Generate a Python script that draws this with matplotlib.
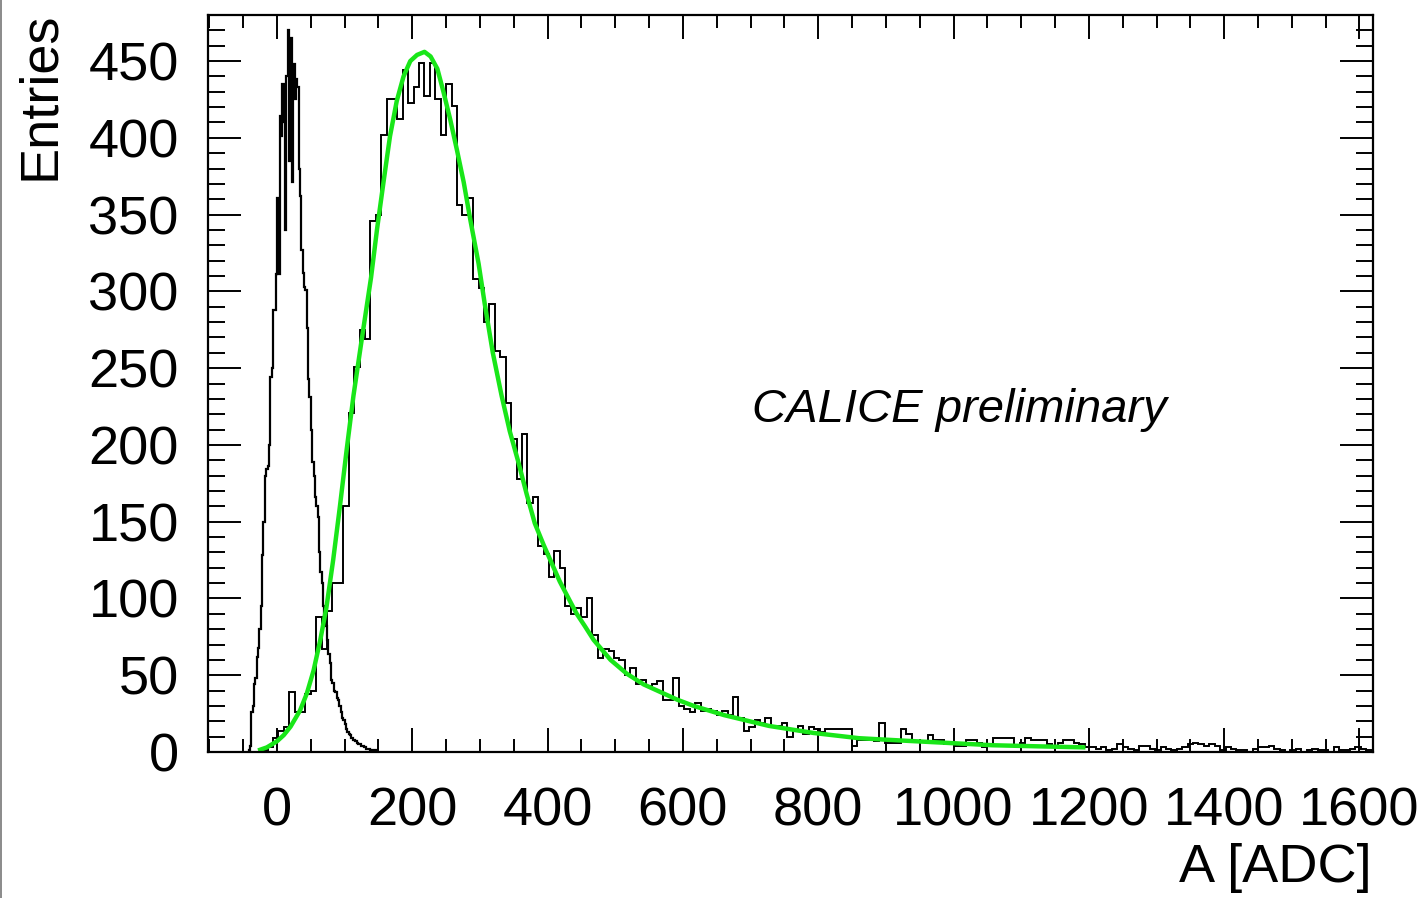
import numpy as np
import matplotlib
matplotlib.use("Agg")
import matplotlib.pyplot as plt
from matplotlib.ticker import MultipleLocator
from matplotlib.lines import Line2D

plt.rcParams["font.family"] = ["Liberation Sans", "DejaVu Sans"]

# pedestal histogram (bin width 2, first bin centre -41)
ped_start, ped_width = -42, 2
ped_counts = [
    1, 4, 26, 30, 44, 48, 62, 68, 80, 95, 128, 150, 180, 184, 186, 200,
    244, 250, 288, 288, 311,
    361, 311, 414, 401, 435, 410, 340, 440, 470, 385, 465, 371, 448, 425,
    438, 433, 380, 362, 327, 312, 303, 301, 276, 243, 231, 210, 189, 180,
    166, 160, 153, 130, 117, 110, 95, 85, 82, 73, 64, 58, 47, 45, 40, 39,
    35, 34, 30, 26, 22, 21, 18, 15, 13, 12, 11, 9, 8, 8, 7, 6, 5, 5, 4, 4,
    3, 3, 2, 2, 2, 1, 1, 1, 1, 0, 0,
]

# signal histogram (bin width 8, first bin centre -98)
sig_start, sig_width = -102, 8
sig_counts = [
    0, 0, 0, 0, 0, 0, 0, 0, 0, 0,
    1, 3, 9, 14, 16, 39, 26, 26, 38, 40, 88, 67, 92, 110, 110, 160,
    221, 251, 275, 269, 346, 350, 402, 425, 425, 412, 444, 423, 433, 449,
    427, 449, 425, 402, 435, 421, 356, 350, 361, 308, 302, 280, 292, 261,
    257, 227, 204, 178, 207, 162, 166, 134, 129, 114, 131, 120, 95, 90,
    94, 88, 100, 76, 61, 67, 66, 61, 60, 50, 55, 44, 47, 43, 44, 46, 34,
    34, 48, 30, 28, 26, 32, 27, 28, 27, 24, 27, 24, 36, 22, 14, 16, 21,
    19, 22, 16, 17, 19, 10, 14, 17, 12, 16, 15, 13, 15, 15, 15, 15, 15,
    4, 8, 8, 8, 7, 19, 6, 6, 6, 15, 12, 7, 7, 7, 11, 8, 8, 5, 5, 4, 4, 8,
    8, 6, 3, 5, 9, 9, 9, 9, 4, 6, 9, 8, 8, 8, 5, 4, 6, 8, 8, 6, 5, 3, 3,
    2, 3, 1, 2, 5, 3, 2, 1, 4, 4, 2, 1, 3, 2, 1, 2, 3, 5, 6, 5, 4, 5, 4,
    1, 3, 2, 1, 1, 0, 2, 3, 3, 4, 2, 1, 0, 1, 2, 0, 1, 2, 1, 1, 0, 3, 1,
    1, 2, 3, 2, 1,
]

# fitted curve
fit_x = [-28, -15, 0, 10, 20, 34, 44, 54, 64, 73, 83, 93, 103, 113, 125,
         139, 148, 158, 167, 177, 187, 197, 207, 218, 227, 237, 246, 256,
         266, 276, 286, 298, 307, 319, 332, 344, 356, 369, 381, 394, 406,
         418, 431, 443, 455, 468, 493, 517, 542, 567, 592, 616, 661, 727,
         793, 860, 926, 992, 1058, 1124, 1195]
fit_y = [1, 3, 7, 11, 16.5, 27, 38, 53, 73, 94, 125, 160, 197, 232, 268,
         309, 341, 373, 401, 424, 440, 450, 454, 456, 453, 445, 430, 412,
         392, 371, 346, 318, 292, 260, 232, 209, 190, 168, 149, 135, 123,
         111, 100, 90, 82, 73, 60, 51, 44, 39, 34, 30, 24, 17, 12.4, 9,
         7.4, 5.9, 4.4, 3.7, 3]

x_ticks = [0, 200, 400, 600, 800, 1000, 1200, 1400, 1600]
y_ticks = [0, 50, 100, 150, 200, 250, 300, 350, 400, 450]

W, H = 1426, 898
fig = plt.figure(figsize=(W / 100, H / 100), dpi=100)
ax = fig.add_axes([208 / W, 1 - 752 / H, (1373 - 208) / W, (752 - 15) / H])

ped_edges = ped_start + ped_width * np.arange(len(ped_counts) + 1)
sig_edges = sig_start + sig_width * np.arange(len(sig_counts) + 1)
ax.stairs(ped_counts, ped_edges, color="black", lw=1.6)
ax.stairs(sig_counts, sig_edges, color="black", lw=1.4)
ax.plot(fit_x, fit_y, color="#19e619", lw=3.2, solid_capstyle="butt")

ax.set_xlim(-102, 1620)
ax.set_ylim(0, 480)
ax.set_xticks(x_ticks)
ax.set_yticks(y_ticks)
ax.xaxis.set_minor_locator(MultipleLocator(50))
ax.yaxis.set_minor_locator(MultipleLocator(10))
ax.tick_params(which="both", direction="in", top=True, right=True,
               width=1.4, labelsize=39)
ax.tick_params(axis="x", which="major", length=17, pad=25)
ax.tick_params(axis="x", which="minor", length=9.5)
ax.tick_params(axis="y", which="major", length=24, pad=21)
ax.tick_params(axis="y", which="minor", length=12)
for s in ax.spines.values():
    s.set_linewidth(1.6)

ax.text(1009, 223, "CALICE preliminary", fontsize=34, style="italic",
        ha="center", va="center")

fig.text(40 / W, 1 - 12 / H, "Entries", rotation=90, fontsize=39,
         ha="center", va="top")
fig.text(1372 / W, 1 - 843 / H, "A [ADC]", fontsize=39, ha="right", va="top")

fig.add_artist(Line2D([0.0008, 0.0008], [0, 1], color="#777777", lw=1.2))

fig.savefig("out.png", dpi=100)
